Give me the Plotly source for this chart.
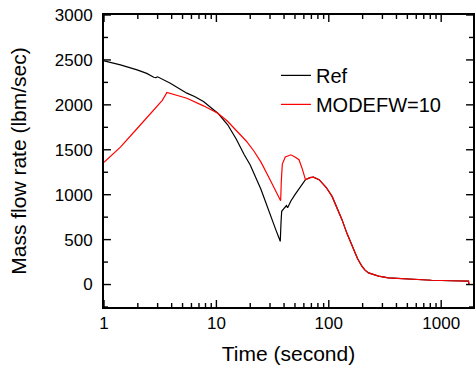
import math
import plotly.graph_objects as go

# Time (s) and mass flow rate (lbm/sec)
ref_t = [1, 1.4, 1.97, 2.4, 2.77, 2.9, 3.0, 3.3, 3.89, 5.46, 6.39, 7.67, 10.3, 12.6, 15, 17.7, 20,
         24.9, 28, 31, 34, 36, 37, 37.6, 38.1, 40.3, 42, 43, 46, 50, 56, 62, 68, 73, 82, 95, 107,
         131, 145, 161, 180, 197, 210, 226, 277, 339, 417, 600, 820, 1200, 1750, 1765]
ref_v = [2490, 2445, 2389, 2350, 2307, 2303, 2312, 2285, 2241, 2130, 2093, 2037, 1907, 1778, 1620,
         1444, 1330, 1060, 880, 730, 600, 520, 480, 700, 815, 852, 878, 855, 930, 1000, 1090, 1167,
         1190, 1195, 1167, 1080, 981, 722, 570, 426, 290, 204, 160, 130, 93, 74, 67, 56, 48, 42,
         38, 0]

mod_t = [1, 1.4, 2.0, 2.6, 3.0, 3.3, 3.63, 4.3, 5.46, 7.67, 10.3, 12.5, 15.4, 18.5, 21.7, 25,
         28.5, 33.8, 36, 37.3, 37.8, 38.6, 41, 46, 50, 54.3, 58, 62, 68, 73, 82, 95, 107, 131, 145,
         161, 180, 197, 210, 226, 277, 339, 417, 600, 820, 1200, 1750, 1765]
mod_v = [1360, 1530, 1745, 1900, 1985, 2050, 2137, 2110, 2074, 1989, 1907, 1820, 1703, 1595, 1481,
         1360, 1222, 1037, 975, 933, 1150, 1340, 1420, 1444, 1420, 1389, 1290, 1167, 1190, 1195,
         1167, 1080, 981, 722, 570, 426, 290, 204, 160, 130, 93, 74, 67, 56, 48, 42, 38, 0]

series_names = ["Ref", "MODEFW=10"]
x_major = [1, 10, 100, 1000]
x_labels = ["1", "10", "100", "1000"]
x_minor = [m * d for d in (1, 10, 100) for m in range(2, 10)]
y_major = [0, 500, 1000, 1500, 2000, 2500, 3000]
y_minor = [-250, 250, 750, 1250, 1750, 2250, 2750]

FONT = "Arial, Liberation Sans, sans-serif"
X_RANGE = [0, 3.283]          # log10 units (1 .. ~1920 s)
Y_RANGE = [-250, 3000]
W, H = 475, 370
M = dict(l=104, r=0, t=15, b=63)
PLOT_W = W - M["l"] - M["r"]
PLOT_H = H - M["t"] - M["b"]
MAJOR_LEN, MINOR_LEN = 7, 4   # tick lengths in px

fig = go.Figure()
fig.add_trace(go.Scatter(x=ref_t, y=ref_v, mode="lines", name=series_names[0],
                         line=dict(color="black", width=1.2)))
fig.add_trace(go.Scatter(x=mod_t, y=mod_v, mode="lines", name=series_names[1],
                         line=dict(color="#ff0000", width=1.2)))

# inward-pointing ticks on all four sides (shape coords are data values on the axes)
dlog_per_px = (X_RANGE[1] - X_RANGE[0]) / PLOT_W
dy_per_px = (Y_RANGE[1] - Y_RANGE[0]) / PLOT_H
x_lo, x_hi = 10 ** X_RANGE[0], 10 ** X_RANGE[1]
tick_line = dict(color="black", width=1.4)
shapes = []
for vals, ln in ((x_major, MAJOR_LEN), (x_minor, MINOR_LEN)):
    for v in vals:
        shapes.append(dict(type="line", xref="x", yref="y", x0=v, x1=v,
                           y0=Y_RANGE[0], y1=Y_RANGE[0] + ln * dy_per_px, line=tick_line))
        shapes.append(dict(type="line", xref="x", yref="y", x0=v, x1=v,
                           y0=Y_RANGE[1], y1=Y_RANGE[1] - ln * dy_per_px, line=tick_line))
for vals, ln in ((y_major, MAJOR_LEN), (y_minor, MINOR_LEN)):
    for v in vals:
        shapes.append(dict(type="line", xref="x", yref="y", y0=v, y1=v,
                           x0=x_lo, x1=10 ** (X_RANGE[0] + ln * dlog_per_px), line=tick_line))
        shapes.append(dict(type="line", xref="x", yref="y", y0=v, y1=v,
                           x0=x_hi, x1=10 ** (X_RANGE[1] - ln * dlog_per_px), line=tick_line))

fig.update_layout(
    xaxis=dict(type="log", range=X_RANGE, tickmode="array", tickvals=x_major, ticktext=x_labels,
               ticks="", showline=True, linecolor="black", linewidth=2, mirror=True,
               showgrid=False, zeroline=False,
               tickfont=dict(family=FONT, size=17, color="black"),
               title=dict(text="Time (second)", font=dict(family=FONT, size=21, color="black"),
                          standoff=14)),
    yaxis=dict(range=Y_RANGE, tickmode="array", tickvals=y_major,
               ticks="", showline=True, linecolor="black", linewidth=2, mirror=True,
               showgrid=False, zeroline=False, ticklabelstandoff=6,
               tickfont=dict(family=FONT, size=17, color="black"),
               title=dict(text="Mass flow rate (lbm/sec)", font=dict(family=FONT, size=21, color="black"),
                          standoff=22)),
    shapes=shapes,
    width=W, height=H,
    margin=M,
    paper_bgcolor="white", plot_bgcolor="white",
    showlegend=True,
    legend=dict(x=0.466, y=0.86, xanchor="left", yanchor="top",
                font=dict(family=FONT, size=20, color="black"),
                bgcolor="rgba(0,0,0,0)", borderwidth=0, tracegroupgap=0),
)

fig.write_html("out.html")
